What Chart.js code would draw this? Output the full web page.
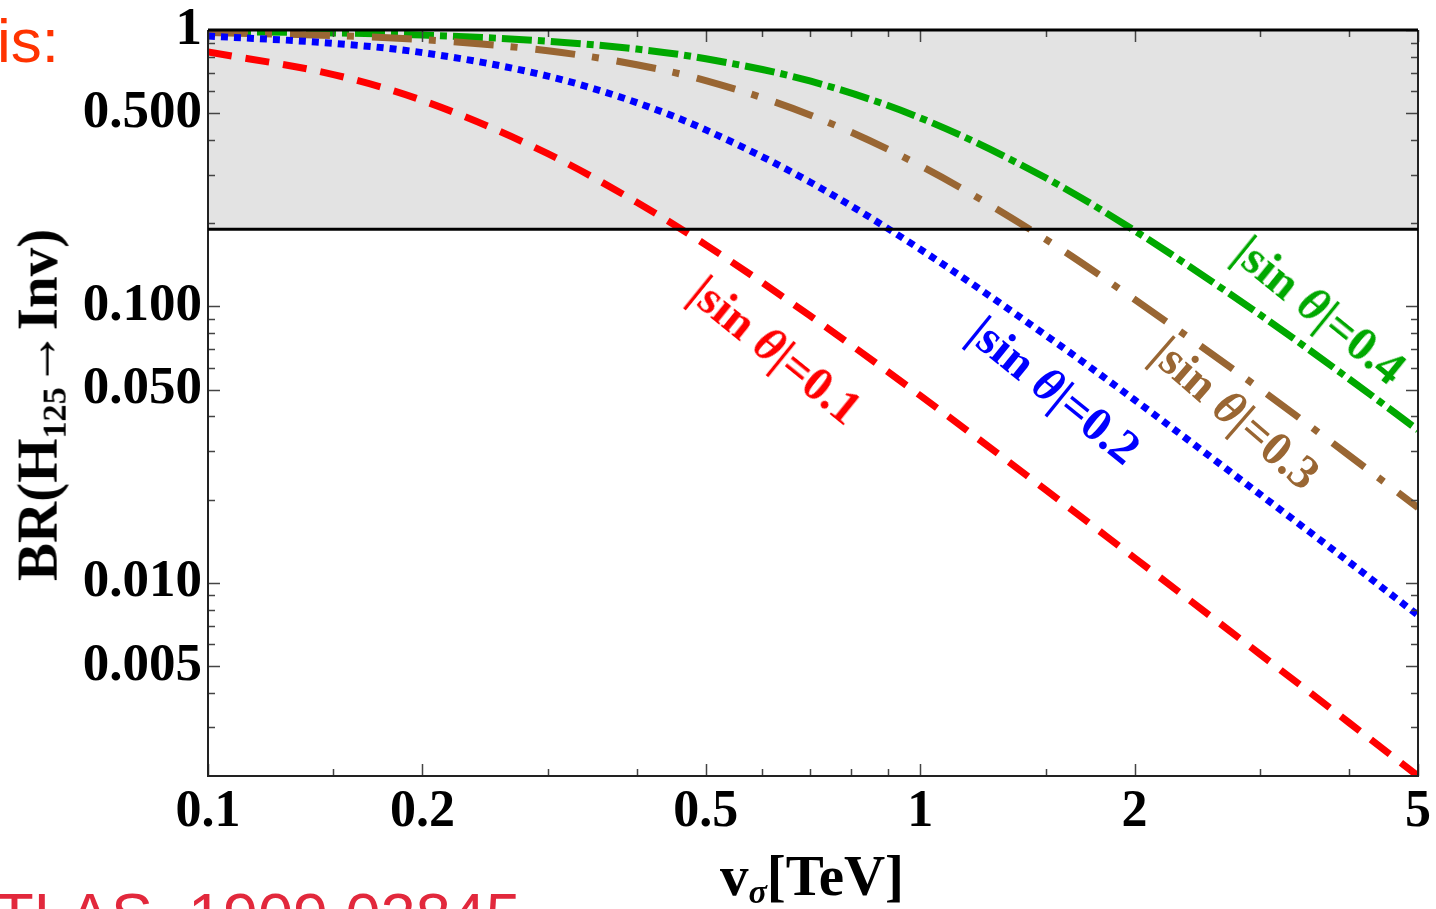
<!DOCTYPE html>
<html>
<head>
<meta charset="utf-8">
<script src="https://cdn.jsdelivr.net/npm/chart.js@4.4.1/dist/chart.umd.min.js"></script>
<style>
html, body { margin: 0; padding: 0; background: #fff; overflow: hidden; }
#wrap { position: relative; width: 1436px; height: 909px; overflow: hidden; }
canvas { position: absolute; left: 0; top: 0; }
.t { position: absolute; white-space: nowrap; line-height: 1; transform-origin: center center; }
.serif { font-family: "Liberation Serif", serif; font-weight: bold; }
.lab { font-size: 48px; }
sub { font-size: 60%; vertical-align: -0.25em; }
</style>
</head>
<body>
<div id="wrap">
<canvas id="chart" width="1436" height="909"></canvas>

<div class="t" style="left:-3px;top:10px;font-family:'Liberation Sans',sans-serif;font-size:62px;color:#ff3300;">is:</div>
<div class="t" style="left:-42px;top:884px;font-family:'Liberation Sans',sans-serif;font-size:63px;color:#e2283c;">ATLAS, 1909.02845</div>

<div class="t serif" style="left:40px;top:405px;font-size:57px;transform:translate(-50%,-50%) rotate(-90deg);">BR(H<sub>125</sub>→Inv)</div>
<div class="t serif" style="left:812px;top:878px;font-size:57px;transform:translate(-50%,-50%);">v<sub><i>σ</i></sub>[TeV]</div>

<div class="t serif lab" style="left:776px;top:350px;color:#ff0000;transform:translate(-50%,-50%) rotate(39deg);">|sin <i>θ</i>|=0.1</div>
<div class="t serif lab" style="left:1055px;top:390px;color:#0000ff;transform:translate(-50%,-50%) rotate(39deg);">|sin <i>θ</i>|=0.2</div>
<div class="t serif lab" style="left:1236px;top:413px;color:#996633;transform:translate(-50%,-50%) rotate(41deg);">|sin <i>θ</i>|=0.3</div>
<div class="t serif lab" style="left:1320px;top:310px;color:#00a800;transform:translate(-50%,-50%) rotate(39deg);">|sin <i>θ</i>|=0.4</div>
</div>

<script>
// v_sigma in TeV and BR(H125 -> Inv)
const V_SIGMA = [0.1, 0.15, 0.2, 0.3, 0.4, 0.5, 0.7, 1, 1.5, 2, 3, 4, 5];
const BR_S01 = [0.833, 0.690, 0.556, 0.357, 0.238, 0.167, 0.0926, 0.0476, 0.0217, 0.0123, 0.00552, 0.00312, 0.0020];
const BR_S02 = [0.951, 0.895, 0.828, 0.681, 0.546, 0.435, 0.282, 0.161, 0.0787, 0.0459, 0.0209, 0.0119, 0.00763];
const BR_S03 = [0.979, 0.955, 0.923, 0.841, 0.749, 0.656, 0.493, 0.323, 0.175, 0.106, 0.0503, 0.0289, 0.0187];
const BR_S04 = [0.989, 0.976, 0.959, 0.911, 0.853, 0.787, 0.654, 0.481, 0.292, 0.188, 0.0933, 0.0547, 0.0357];

// excluded band (shaded)
const BAND = [0.19, 1];

const X_TICKS = [0.1, 0.2, 0.5, 1, 2, 5];
const X_LABELS = ['0.1', '0.2', '0.5', '1', '2', '5'];
const X_MINOR = [0.15, 0.3, 0.4, 0.6, 0.7, 0.8, 0.9, 1.5, 3, 4];
const Y_TICKS = [1, 0.5, 0.1, 0.05, 0.01, 0.005];
const Y_LABELS = ['1', '0.500', '0.100', '0.050', '0.010', '0.005'];
const Y_MINOR = [0.9, 0.8, 0.7, 0.6, 0.4, 0.3, 0.2, 0.09, 0.08, 0.07, 0.06, 0.04, 0.03, 0.02,
                 0.009, 0.008, 0.007, 0.006, 0.004, 0.003];

function pts(ys) {
    return V_SIGMA.map((x, i) => ({ x: x, y: ys[i] }));
}

const frame = {
    id: 'frame',
    beforeDatasetsDraw(chart) {
        const { ctx, chartArea: a, scales: { y } } = chart;
        const top = y.getPixelForValue(BAND[1]);
        const bot = y.getPixelForValue(BAND[0]);
        ctx.save();
        ctx.fillStyle = '#e3e3e3';
        ctx.fillRect(a.left, top, a.right - a.left, bot - top);
        ctx.restore();
    },
    afterDatasetsDraw(chart) {
        const { ctx, chartArea: a, scales: { x, y } } = chart;
        ctx.save();
        ctx.strokeStyle = '#444';
        ctx.lineWidth = 1.5;
        // ticks on all four sides, pointing inside
        const tx = (v, len) => {
            const px = Math.round(x.getPixelForValue(v)) + 0.5;
            ctx.beginPath();
            ctx.moveTo(px, a.bottom); ctx.lineTo(px, a.bottom - len);
            ctx.moveTo(px, a.top); ctx.lineTo(px, a.top + len);
            ctx.stroke();
        };
        const ty = (v, len) => {
            const py = Math.round(y.getPixelForValue(v)) + 0.5;
            ctx.beginPath();
            ctx.moveTo(a.left, py); ctx.lineTo(a.left + len, py);
            ctx.moveTo(a.right, py); ctx.lineTo(a.right - len, py);
            ctx.stroke();
        };
        X_TICKS.forEach(v => tx(v, 12));
        X_MINOR.forEach(v => tx(v, 7));
        Y_TICKS.forEach(v => ty(v, 12));
        Y_MINOR.forEach(v => ty(v, 7));

        // axes frame
        ctx.strokeStyle = '#222';
        ctx.lineWidth = 2;
        ctx.beginPath();
        ctx.moveTo(a.left, a.top); ctx.lineTo(a.left, a.bottom); ctx.lineTo(a.right, a.bottom); ctx.lineTo(a.right, a.top);
        ctx.stroke();

        // thick lines at band edges
        ctx.strokeStyle = '#000';
        ctx.lineWidth = 3;
        ctx.beginPath();
        const b1 = y.getPixelForValue(BAND[1]);
        const b0 = y.getPixelForValue(BAND[0]);
        ctx.moveTo(a.left, b1); ctx.lineTo(a.right, b1);
        ctx.moveTo(a.left, b0); ctx.lineTo(a.right, b0);
        ctx.stroke();
        ctx.restore();
    }
};

const lineStyle = {
    pointRadius: 0,
    borderWidth: 7,
    borderCapStyle: 'butt',
    cubicInterpolationMode: 'monotone',
    fill: false
};

new Chart(document.getElementById('chart'), {
    type: 'line',
    data: {
        datasets: [
            { ...lineStyle, label: '|sin θ|=0.1', data: pts(BR_S01), borderColor: '#ff0000', borderDash: [24, 14] },
            { ...lineStyle, label: '|sin θ|=0.2', data: pts(BR_S02), borderColor: '#0000ff', borderDash: [7, 6] },
            { ...lineStyle, label: '|sin θ|=0.3', data: pts(BR_S03), borderColor: '#996633', borderDash: [40, 17, 7, 18] },
            { ...lineStyle, label: '|sin θ|=0.4', data: pts(BR_S04), borderColor: '#00a800', borderDash: [30, 6, 7, 6] }
        ]
    },
    options: {
        responsive: false,
        animation: false,
        layout: { padding: { top: 30, right: 18, left: 0, bottom: 0 } },
        plugins: {
            legend: { display: false },
            tooltip: { enabled: false }
        },
        scales: {
            x: {
                type: 'logarithmic',
                min: 0.1,
                max: 5,
                grid: { display: false, drawTicks: false },
                border: { display: false },
                afterBuildTicks: s => { s.ticks = X_TICKS.map(v => ({ value: v })); },
                afterFit: s => { s.height = 133; s.paddingLeft = 0; s.paddingRight = 0; },
                ticks: {
                    autoSkip: false,
                    maxRotation: 0,
                    padding: 5,
                    color: '#000',
                    font: { family: 'Liberation Serif', weight: 'bold', size: 52 },
                    callback: v => X_LABELS[X_TICKS.indexOf(v)]
                }
            },
            y: {
                type: 'logarithmic',
                min: 0.002,
                max: 1,
                grid: { display: false, drawTicks: false },
                border: { display: false },
                afterBuildTicks: s => { s.ticks = Y_TICKS.map(v => ({ value: v })); },
                afterFit: s => { s.width = 208; s.paddingTop = 0; s.paddingBottom = 0; },
                ticks: {
                    autoSkip: false,
                    padding: 6,
                    color: '#000',
                    font: { family: 'Liberation Serif', weight: 'bold', size: 53 },
                    callback: v => Y_LABELS[Y_TICKS.indexOf(v)]
                }
            }
        }
    },
    plugins: [frame]
});
</script>
</body>
</html>
